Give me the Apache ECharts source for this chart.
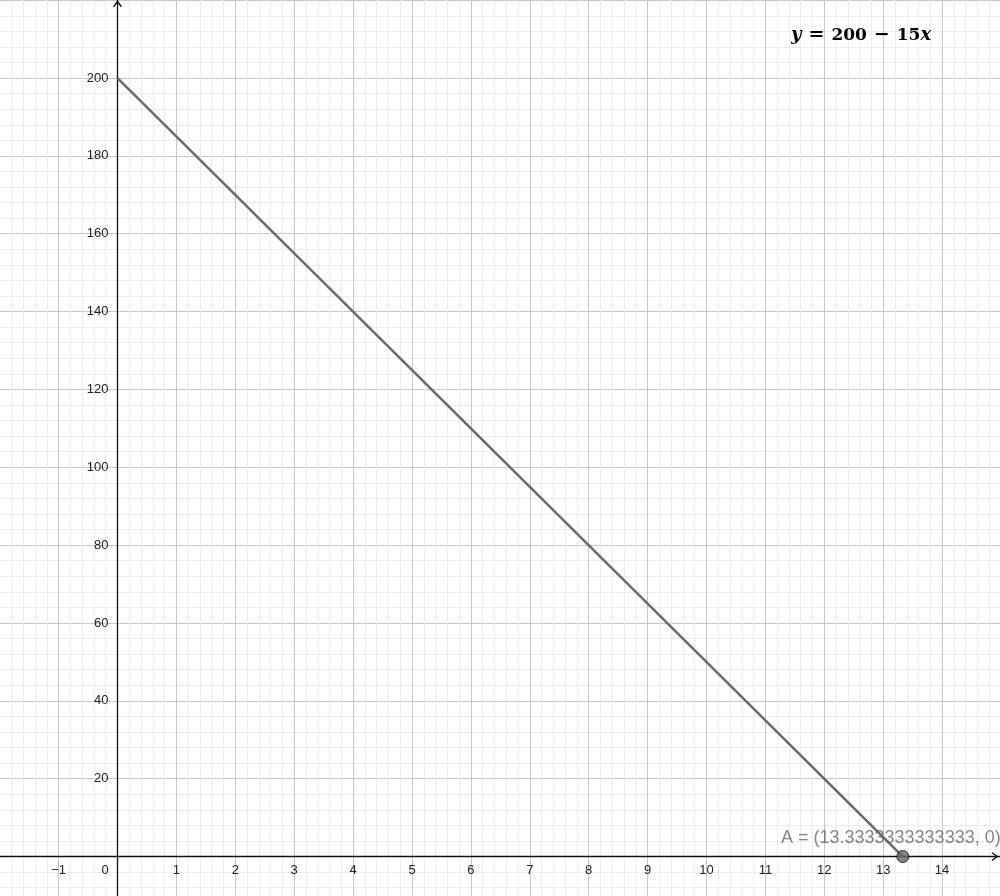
<!DOCTYPE html>
<html>
<head>
<meta charset="utf-8">
<script src="https://cdn.jsdelivr.net/npm/echarts@6/dist/echarts.min.js"></script>
<style>
html,body{margin:0;padding:0;background:#fff;}
#c{width:1000px;height:896px;}
</style>
</head>
<body>
<div id="c"></div>
<script>
// Data
const lineX = [0, 13.3333333333333];
const lineY = [200, 0];
const pointA = [13.3333333333333, 0];
const pointLabel = 'A = (13.3333333333333, 0)';
const xRange = [-2, 15];
const yRange = [-20, 220];
const xStep = 1;
const yStep = 20;

const chart = echarts.init(document.getElementById('c'), null, {renderer: 'canvas'});
const chevron = 'path://M5,0 L10,7 L8.8,8 L5,2.6 L1.2,8 L0,7 Z';
const labelFont = {color: '#222', fontFamily: 'Liberation Sans', fontSize: 13};

function baseAxis(range, step) {
  return {
    type: 'value', min: range[0], max: range[1], interval: step
  };
}

const eqFont = {fontFamily: 'DejaVu Serif', fontWeight: 'bold', fontSize: 17, color: '#000'};

const option = {
  animation: false,
  backgroundColor: '#ffffff',
  title: {
    text: '{i|y}{op|=}{n|200}{op|−}{n|15}{i|x}',
    left: 786,
    top: 21,
    textStyle: Object.assign({
      rich: {
        i: Object.assign({}, eqFont, {fontStyle: 'italic', fontSize: 18}),
        n: Object.assign({}, eqFont),
        op: Object.assign({}, eqFont, {fontSize: 19, padding: [0, 7, 0, 7]})
      }
    }, eqFont)
  },
  grid: {left: -0.3, right: -1, top: 0.2, bottom: -38.4, containLabel: false, outerBoundsMode: 'none'},
  xAxis: [
    Object.assign(baseAxis(xRange, xStep), {
      axisLine: {show: true, onZero: true, lineStyle: {color: '#111', width: 1.3},
        symbol: ['none', chevron], symbolSize: [10, 7], symbolOffset: [0, -6]},
      axisTick: {show: false},
      axisLabel: {show: false},
      minorTick: {show: false, splitNumber: 5},
      splitLine: {show: true, lineStyle: {color: '#c6c6c6', width: 1}},
      minorSplitLine: {show: true, lineStyle: {color: '#ececec', width: 1}}
    }),
    Object.assign(baseAxis(xRange, xStep), {
      position: 'bottom',
      offset: 0,
      axisLine: {show: false, onZero: false},
      axisTick: {show: false},
      splitLine: {show: false},
      axisLabel: Object.assign({
        show: true, margin: 7,
        showMinLabel: false, showMaxLabel: false,
        formatter: function (v) {
          if (v <= xRange[0] || v >= xRange[1]) return '';
          if (v === 0) return '{z|0}';
          return v < 0 ? '\u2212' + Math.abs(v) : String(v);
        },
        rich: {z: Object.assign({padding: [0, 25, 0, 0]}, labelFont)}
      }, labelFont)
    })
  ],
  yAxis: [
    Object.assign(baseAxis(yRange, yStep), {
      axisLine: {show: true, onZero: true, lineStyle: {color: '#111', width: 1.3},
        symbol: ['none', chevron], symbolSize: [10, 7], symbolOffset: [0, -3.5]},
      axisTick: {show: false},
      axisLabel: {show: false},
      minorTick: {show: false, splitNumber: 5},
      splitLine: {show: true, lineStyle: {color: '#c6c6c6', width: 1}},
      minorSplitLine: {show: true, lineStyle: {color: '#ececec', width: 1}}
    }),
    Object.assign(baseAxis(yRange, yStep), {
      position: 'left',
      offset: 0,
      axisLine: {show: false, onZero: false},
      axisTick: {show: false},
      splitLine: {show: false},
      axisLabel: Object.assign({
        show: true, margin: 9,
        showMinLabel: false, showMaxLabel: false,
        formatter: function (v) {
          if (v <= 0 || v >= yRange[1]) return '';
          return String(v);
        }
      }, labelFont)
    })
  ],
  series: [
    {
      type: 'line',
      data: lineX.map((x, i) => [x, lineY[i]]),
      showSymbol: false,
      symbol: 'none',
      lineStyle: {color: '#6a6a6a', width: 2.5},
      z: 2,
      silent: true
    },
    {
      type: 'scatter',
      data: [pointA],
      symbolSize: 12,
      itemStyle: {color: '#646464', borderColor: '#111', borderWidth: 1},
      label: {
        show: true,
        position: 'top',
        distance: 5,
        offset: [-12, 2],
        formatter: pointLabel,
        color: '#666666',
        fontFamily: 'Liberation Sans',
        fontSize: 18
      },
      z: 3,
      silent: true
    }
  ]
};
chart.setOption(option);

// Move the label axes onto the zero lines using the library's own scales
const zeroY = chart.convertToPixel({yAxisIndex: 0}, 0);
const bottomY = chart.convertToPixel({yAxisIndex: 0}, yRange[0]);
const zeroX = chart.convertToPixel({xAxisIndex: 0}, 0);
const leftX = chart.convertToPixel({xAxisIndex: 0}, xRange[0]);
chart.setOption({
  xAxis: [{}, {offset: zeroY - bottomY}],
  yAxis: [{}, {offset: leftX - zeroX}]
});
</script>
</body>
</html>
